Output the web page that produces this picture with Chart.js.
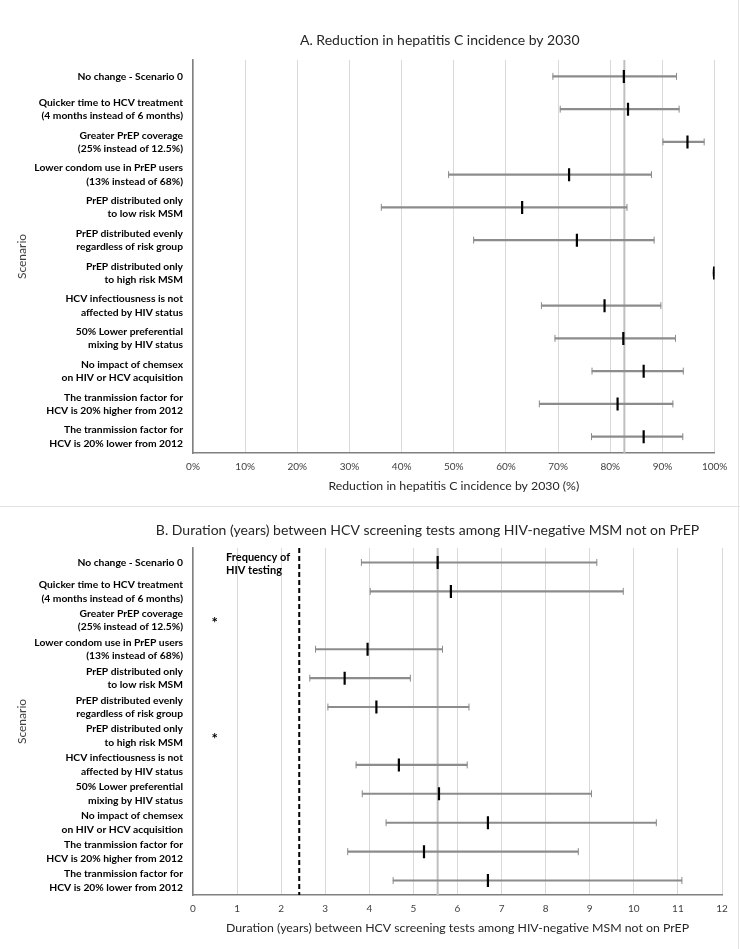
<!DOCTYPE html>
<html>
<head>
<meta charset="utf-8">
<script src="https://cdn.jsdelivr.net/npm/chart.js@4.4.1/dist/chart.umd.min.js"></script>
<style>
  html, body { margin: 0; padding: 0; background: #fff; }
  #wrap { position: relative; width: 740px; height: 949px; overflow: hidden; }
  .panel { position: absolute; left: 0; width: 740px; }
  #pa { top: 0; height: 507px; }
  #pb { top: 507px; height: 442px; }
  .line { position: absolute; background: #e3e3e3; }
</style>
</head>
<body>
<div id="wrap">
  <div class="panel" id="pa"><canvas id="ca" width="740" height="507"></canvas></div>
  <div class="panel" id="pb"><canvas id="cb" width="740" height="442"></canvas></div>
  <div class="line" style="left:0;top:506px;width:740px;height:1px"></div>
  <div class="line" style="left:738px;top:0;width:1px;height:949px"></div>
</div>
<script>
// ---------- DATA ----------
const scenarios = [
  ["No change - Scenario 0"],
  ["Quicker time to HCV treatment", "(4 months instead of 6 months)"],
  ["Greater PrEP coverage", "(25% instead of 12.5%)"],
  ["Lower condom use in PrEP users", "(13% instead of 68%)"],
  ["PrEP distributed only", "to low risk MSM"],
  ["PrEP distributed evenly", "regardless of risk group"],
  ["PrEP distributed only", "to high risk MSM"],
  ["HCV infectiousness is not", "affected by HIV status"],
  ["50% Lower preferential", "mixing by HIV status"],
  ["No impact of chemsex", "on HIV or HCV acquisition"],
  ["The tranmission factor for", "HCV is 20% higher from 2012"],
  ["The tranmission factor for", "HCV is 20% lower from 2012"]
];

// Panel A: reduction in HCV incidence by 2030 (%)
const reductionMean = [82.6, 83.4, 94.8, 72.1, 63.1, 73.6, 99.9, 78.9, 82.5, 86.4, 81.4, 86.4];
const reductionLow  = [69.0, 70.4, 90.1, 49.0, 36.1, 53.8, 99.7, 66.8, 69.4, 76.5, 66.4, 76.4];
const reductionHigh = [92.7, 93.2, 98.0, 87.9, 83.2, 88.4, 100.0, 89.7, 92.5, 94.0, 92.0, 93.9];
const reductionRef = 82.7;
const reductionTicks = [0, 10, 20, 30, 40, 50, 60, 70, 80, 90, 100];

// Panel B: duration (years) between HCV screening tests
const durationMean = [5.55, 5.85, null, 3.96, 3.44, 4.16, null, 4.67, 5.58, 6.69, 5.24, 6.69];
const durationLow  = [3.82, 4.02, null, 2.78, 2.65, 3.06, null, 3.70, 3.84, 4.38, 3.51, 4.54];
const durationHigh = [9.16, 9.76, null, 5.66, 4.93, 6.26, null, 6.22, 9.04, 10.51, 8.74, 11.09];
const durationRef = 5.55;
const durationTicks = [0, 1, 2, 3, 4, 5, 6, 7, 8, 9, 10, 11, 12];
const hivTestingFrequency = 2.41;
const asteriskRows = [2, 6];
const asteriskX = 0.49;
const hivNoteX = 0.75;
const hivNoteRow = 0;
const hivNoteText = ["Frequency of", "HIV testing"];

// ---------- HELPERS ----------
const FONT = "Lato, 'Open Sans', sans-serif";
const BAR_GREY = '#8c8c8c';

function buildDatasets(mean, low, high) {
  const ranges = low.map((l, i) => (l == null ? null : [l, high[i]]));
  const pts = (arr) => arr.map((v, i) => ({ x: v, y: i }));
  return [
    { type: 'scatter', order: 0, data: pts(mean), pointStyle: 'line', rotation: 90,
      radius: 6.5, borderWidth: 2.2, borderColor: '#000', backgroundColor: '#000' },
    { type: 'scatter', order: 1, data: pts(low), pointStyle: 'line', rotation: 90,
      radius: 3.5, borderWidth: 1, borderColor: BAR_GREY, backgroundColor: BAR_GREY },
    { type: 'scatter', order: 1, data: pts(high), pointStyle: 'line', rotation: 90,
      radius: 3.5, borderWidth: 1, borderColor: BAR_GREY, backgroundColor: BAR_GREY },
    { type: 'bar', order: 2, data: ranges, backgroundColor: BAR_GREY, borderWidth: 0,
      barThickness: 1.5, grouped: false }
  ];
}

function refLinePlugin(value, color, width, dash) {
  return {
    id: 'ref' + Math.random().toString(36).slice(2),
    beforeDatasetsDraw(chart) {
      const { ctx, chartArea, scales } = chart;
      const x = scales.x.getPixelForValue(value);
      ctx.save();
      ctx.strokeStyle = color;
      ctx.lineWidth = width;
      ctx.setLineDash(dash || []);
      ctx.beginPath();
      ctx.moveTo(x, chartArea.top);
      ctx.lineTo(x, chartArea.bottom);
      ctx.stroke();
      ctx.restore();
    }
  };
}

function titlePlugin(text, dx, y) {
  return {
    id: 'ttl' + Math.random().toString(36).slice(2),
    afterDraw(chart) {
      const { ctx, chartArea } = chart;
      ctx.save();
      ctx.fillStyle = '#262626';
      ctx.font = "14px " + FONT;
      ctx.textAlign = 'center';
      ctx.textBaseline = 'middle';
      ctx.fillText(text, (chartArea.left + chartArea.right) / 2 + dx, y);
      ctx.restore();
    }
  };
}

function commonOptions(opts) {
  return {
    responsive: false,
    animation: false,
    devicePixelRatio: 1,
    indexAxis: 'y',
    layout: { padding: { top: opts.padTop, right: opts.padRight, bottom: 0, left: 0 } },
    plugins: {
      legend: { display: false },
      tooltip: { enabled: false },
      title: { display: false }
    },
    scales: {
      x: {
        type: 'linear', min: opts.min, max: opts.max,
        afterBuildTicks: (s) => { s.ticks = opts.ticks.map(v => ({ value: v })); },
        afterFit: (s) => { s.height = opts.xHeight; },
        grid: { color: '#d9d9d9', lineWidth: 1, drawTicks: false },
        border: { color: '#808080', width: 1.5 },
        ticks: { color: '#404040', font: { family: FONT, size: 10 }, padding: 8,
                 maxRotation: 0, callback: opts.tickFmt },
        title: { display: true, text: opts.xTitle, color: '#262626',
                 font: { family: FONT, size: 12.3 }, padding: { top: 0, bottom: 13.5 } }
      },
      y: {
        type: 'category', labels: scenarios, offset: true,
        afterFit: (s) => { s.width = 193; },
        grid: { display: false, drawTicks: false },
        border: { color: '#808080', width: 1.5 },
        ticks: { color: '#000', font: { family: FONT, size: 10.3, weight: 'bold', lineHeight: opts.labelLH },
                 padding: 10, autoSkip: false },
        title: { display: true, text: 'Scenario', color: '#404040',
                 font: { family: FONT, size: 12 }, padding: { top: 14.5, bottom: 0 } }
      }
    }
  };
}

// ---------- PANEL A ----------
new Chart(document.getElementById('ca'), {
  type: 'bar',
  data: { labels: scenarios, datasets: buildDatasets(reductionMean, reductionLow, reductionHigh) },
  options: commonOptions({
    padTop: 60, padRight: 25.4, xHeight: 54, labelLH: 1.28,
    min: 0, max: 100, ticks: reductionTicks, tickFmt: (v) => v + '%',
    xTitle: 'Reduction in hepatitis C incidence by 2030 (%)'
  }),
  plugins: [refLinePlugin(reductionRef, '#bfbfbf', 2),
            titlePlugin('A. Reduction in hepatitis C incidence by 2030', -14, 40)]
});

// ---------- PANEL B ----------
const annotPlugin = {
  id: 'annotB',
  afterDatasetsDraw(chart) {
    const { ctx, scales } = chart;
    ctx.save();
    ctx.fillStyle = '#000';
    ctx.font = "bold 15px " + FONT;
    ctx.textAlign = 'center';
    ctx.textBaseline = 'middle';
    asteriskRows.forEach(r => {
      ctx.fillText('*', scales.x.getPixelForValue(asteriskX), scales.y.getPixelForValue(r) + 3);
    });
    ctx.font = "bold 11px " + FONT;
    ctx.textAlign = 'left';
    const yr = scales.y.getPixelForValue(hivNoteRow);
    hivNoteText.forEach((t, i) => {
      ctx.fillText(t, scales.x.getPixelForValue(hivNoteX), yr - 5.5 + i * 13.5);
    });
    ctx.restore();
  }
};
new Chart(document.getElementById('cb'), {
  type: 'bar',
  data: { labels: scenarios, datasets: buildDatasets(durationMean, durationLow, durationHigh) },
  options: commonOptions({
    padTop: 41, padRight: 18, xHeight: 54, labelLH: 1.33,
    min: 0, max: 12, ticks: durationTicks, tickFmt: (v) => String(v),
    xTitle: 'Duration (years) between HCV screening tests among HIV-negative MSM not on PrEP'
  }),
  plugins: [refLinePlugin(durationRef, '#bfbfbf', 2),
            refLinePlugin(hivTestingFrequency, '#000', 2, [5, 3]), annotPlugin,
            titlePlugin('B. Duration (years) between HCV screening tests among HIV-negative MSM not on PrEP', -30, 23)]
});
</script>
</body>
</html>
